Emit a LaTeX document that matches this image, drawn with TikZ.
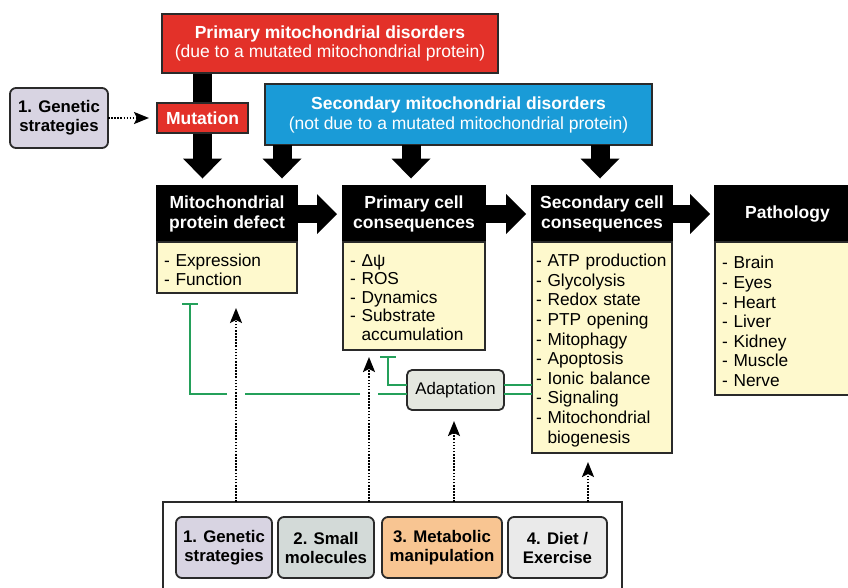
\documentclass[tikz,border=0pt]{standalone}
\usepackage{fontspec}
\setmainfont{Liberation Sans}
\usetikzlibrary{arrows.meta}
\pgfdeclarelayer{background}
\pgfsetlayers{background,main}
\definecolor{redbox}{HTML}{E33129}
\definecolor{bluebox}{HTML}{1A9BD7}
\definecolor{bodyyel}{HTML}{FEF9CD}
\definecolor{lavender}{HTML}{D8D4E2}
\definecolor{smallmol}{HTML}{D3DAD8}
\definecolor{metab}{HTML}{F8C592}
\definecolor{dietc}{HTML}{EAEAEA}
\definecolor{adaptc}{HTML}{E4E7DF}
\definecolor{greenl}{HTML}{24A05A}
\definecolor{boxline}{HTML}{2A2A2A}
\begin{document}
\begin{tikzpicture}[x=1pt,y=-1pt,
  hdr/.style={fill=black, draw=black, line width=1.2pt, text=white,
    font=\bfseries\fontsize{17.5}{20}\selectfont, align=center, inner sep=0pt, outer sep=0pt},
  bodybox/.style={fill=bodyyel, draw=boxline, line width=1.5pt, inner sep=0pt, outer sep=0pt},
  bodytext/.style={font=\fontsize{17.3}{19.6}\selectfont, align=left, inner xsep=0pt, inner ysep=0pt},
  topbox/.style={draw=boxline, line width=1.5pt, text=white, align=center, inner sep=0pt, outer sep=0pt},
  fat/.style={line width=19pt, -{Triangle[width=39pt,length=20pt,line width=0pt]}},
  fatH/.style={line width=18pt, -{Triangle[width=40pt,length=20pt,line width=0pt]}},
  dots/.style={line width=2.2pt, dash pattern=on 1.6pt off 1.5pt, -{Stealth[width=12pt,length=15pt,inset=3pt]}},
  inhib/.style={draw=greenl, line width=1.5pt},
  rbox/.style={rounded corners=6pt, draw=boxline, line width=1.8pt,
    font=\bfseries\fontsize{16.8}{19}\selectfont, align=center, inner sep=0pt, outer sep=0pt, minimum height=61pt}
]
\useasboundingbox (0,0) rectangle (848,587);

% top boxes
\node[topbox, fill=redbox, minimum width=336pt, minimum height=59pt,
  font=\fontsize{17.5}{19}\selectfont] (primary) at (330,43.5)
  {\textbf{Primary mitochondrial disorders}\\(due to a mutated mitochondrial protein)};
\node[topbox, fill=bluebox, minimum width=387pt, minimum height=61pt,
  font=\fontsize{17.5}{20}\selectfont] (secondary) at (458.5,114.5)
  {\textbf{Secondary mitochondrial disorders}\\(not due to a mutated mitochondrial protein)};

% left genetic box
\node[rbox, fill=lavender, minimum width=98pt, minimum height=60pt] (gen0) at (59,118) {1. Genetic\\strategies};

% mutation
\node[topbox, fill=redbox, minimum width=91pt, minimum height=30pt,
  font=\bfseries\fontsize{17.5}{20}\selectfont] (mutation) at (202.5,118) {Mutation};

% main column boxes
\node[hdr, minimum width=140pt, minimum height=57pt] (defhdr) at (227,214) {Mitochondrial\\protein defect};
\node[bodybox, minimum width=140pt, minimum height=51pt] (defbody) at (227,267.5) {};
\node[bodytext, text width=126pt] (deftext) at ([yshift=-2.5pt]defbody.center) {- Expression\\- Function};

\node[hdr, minimum width=142pt, minimum height=57pt] (pchdr) at (414,214) {Primary cell\\consequences};
\node[bodybox, minimum width=142pt, minimum height=108pt] (pcbody) at (414,296) {};
\node[bodytext, text width=128pt, font=\fontsize{17.3}{18.4}\selectfont] (pctext) at ([yshift=-1.5pt]pcbody.center)
  {- Δψ\\- ROS\\- Dynamics\\- Substrate\\\phantom{- }accumulation};

\node[hdr, minimum width=140pt, minimum height=57pt] (schdr) at (602,214) {Secondary cell\\consequences};
\node[bodybox, minimum width=140pt, minimum height=211pt] (scbody) at (602,347.5) {};
\node[bodytext, text width=132pt] (sctext) at ([yshift=-3pt]scbody.center)
  {- ATP production\\- Glycolysis\\- Redox state\\- PTP opening\\- Mitophagy\\- Apoptosis\\- Ionic balance\\- Signaling\\- Mitochondrial\\\phantom{- }biogenesis};

\node[hdr, minimum width=145pt, minimum height=57pt] (pathhdr) at (787.5,214) {Pathology};
\node[bodybox, minimum width=145pt, minimum height=153pt] (pathbody) at (787.5,318.5) {};
\node[bodytext, text width=131pt] (pathtext) at ([yshift=-3pt]pathbody.center)
  {- Brain\\- Eyes\\- Heart\\- Liver\\- Kidney\\- Muscle\\- Nerve};

% adaptation
\node[rbox, fill=adaptc, font=\fontsize{16.8}{19}\selectfont, minimum width=97pt, minimum height=40pt, rounded corners=5pt] (adapt) at (455.5,390) {Adaptation};

% bottom box
\node[draw=boxline, line width=1.8pt, minimum width=459pt, minimum height=110pt, inner sep=0pt, outer sep=0pt] (bottom) at (392.5,557) {};
\node[rbox, fill=lavender, minimum width=96pt] (b1) at (224,547.5) {1. Genetic\\strategies};
\node[rbox, fill=smallmol, minimum width=96pt] (b2) at (326,547.5) {2. Small\\molecules};
\node[rbox, fill=metab, minimum width=120pt] (b3) at (442,547.5) {3. Metabolic\\manipulation};
\node[rbox, fill=dietc, minimum width=99pt] (b4) at (557.5,547.5) {4. Diet /\\Exercise};

% thick arrows
\begin{pgfonlayer}{background}
\draw[fat, shorten >=7pt] (primary.south -| mutation) -- (defhdr.north -| mutation);
\end{pgfonlayer}

\coordinate (sA) at ([xshift=55pt]defhdr.north);
\coordinate (sB) at ([xshift=-3pt]pchdr.north);
\coordinate (sC) at ([xshift=-2pt]schdr.north);
\draw[fat, shorten >=7pt] (secondary.south -| sA) -- (sA);
\draw[fat, shorten >=7pt] (secondary.south -| sB) -- (sB);
\draw[fat, shorten >=7pt] (secondary.south -| sC) -- (sC);

\draw[fatH, shorten >=6pt] (defhdr.east) -- (pchdr.west);
\draw[fatH, shorten >=6pt] (pchdr.east) -- (schdr.west);
\draw[fatH, shorten >=5pt] (schdr.east) -- (pathhdr.west);

% dotted arrows
\draw[dots, shorten >=8pt] (gen0.east) -- (mutation.west);
\coordinate (d1) at ([xshift=9pt,yshift=-15pt]defbody.south);
\coordinate (d2) at ([xshift=-45pt,yshift=-7pt]pcbody.south);
\coordinate (d3) at ([xshift=-1.5pt,yshift=-11pt]adapt.south);
\coordinate (d4) at ([xshift=-14pt,yshift=-9pt]scbody.south);
\draw[dots] (bottom.north -| d1) -- (d1);
\draw[dots] (bottom.north -| d2) -- (d2);
\draw[dots] (bottom.north -| d3) -- (d3);
\draw[dots] (bottom.north -| d4) -- (d4);

% green inhibition lines
\coordinate (aUR) at ([yshift=5pt]adapt.east);
\coordinate (aLR) at ([yshift=-4pt]adapt.east);
\coordinate (aUL) at ([yshift=5pt]adapt.west);
\coordinate (aLL) at ([yshift=-4pt]adapt.west);
\draw[inhib] (aUR) -- (aUR -| scbody.west);
\draw[inhib] (aLR) -- (aLR -| scbody.west);
\coordinate (tpc) at ([xshift=-26pt,yshift=-6pt]pcbody.south);
\draw[inhib, -{Bar[width=16pt,line width=1.5pt]}] (aUL) -| (tpc);
\coordinate (tdef) at ([xshift=-37pt,yshift=-10pt]defbody.south);
\coordinate (g2r) at ([xshift=9pt]d2);
\coordinate (g2l) at ([xshift=-9pt]d2);
\coordinate (g1r) at ([xshift=9pt]d1);
\coordinate (g1l) at ([xshift=-9pt]d1);
\draw[inhib] (aLL) -- (aLL -| g2r) (aLL -| g2l) -- (aLL -| g1r);
\draw[inhib, -{Bar[width=16pt,line width=1.5pt]}] (aLL -| g1l) -| (tdef);
\end{tikzpicture}
\end{document}
